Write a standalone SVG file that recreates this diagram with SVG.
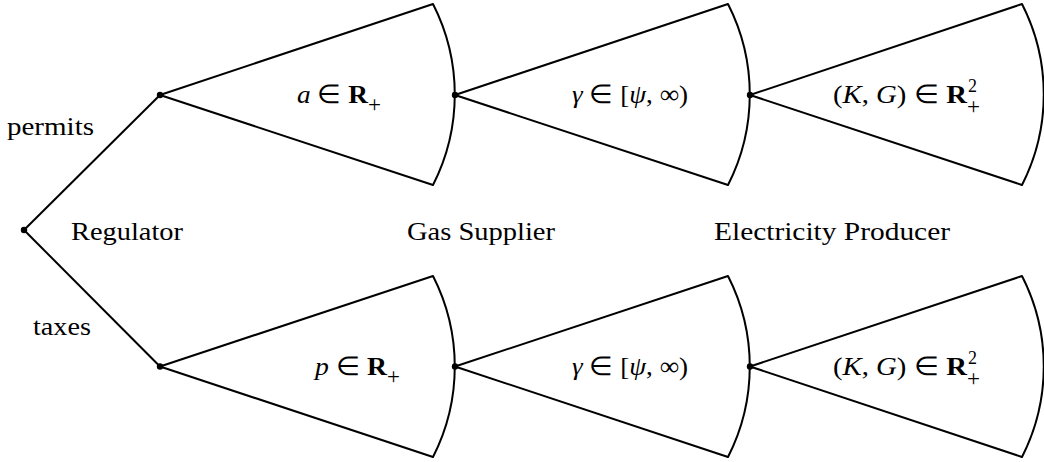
<svg xmlns="http://www.w3.org/2000/svg" width="1044" height="462" viewBox="0 0 1044 462">
<style>
.e{fill:none;stroke:#000;stroke-width:2;stroke-linejoin:miter}
.fan{fill:none;stroke:#000;stroke-width:2;stroke-linejoin:round}
.d{fill:#000}
text{font-family:"Liberation Serif","Times New Roman",serif;font-size:25px;fill:#000}
.m{font-size:26px}
.i{font-style:italic}
.b{font-weight:bold}
.s{font-size:18px}
.p{font-size:23px}
</style>
<rect width="1044" height="462" fill="#fff"/>
<g id="connectors">
<path class="e" d="M24,230 L160,95"/>
<path class="e" d="M24,230 L160,366.5"/>
</g>
<g id="fan-regulator-permits"><path class="fan" d="M160,95 L433,4 A199,199 0 0 1 433,185 Z"/></g>
<g id="fan-gas-permits"><path class="fan" d="M455,95 L728,4 A199,199 0 0 1 728,185 Z"/></g>
<g id="fan-elec-permits"><path class="fan" d="M750,95 L1022,4 A199,199 0 0 1 1022,185 Z"/></g>
<g id="fan-regulator-taxes"><path class="fan" d="M160,366.5 L433,276 A199,199 0 0 1 433,457 Z"/></g>
<g id="fan-gas-taxes"><path class="fan" d="M455,366.5 L728,276 A199,199 0 0 1 728,457 Z"/></g>
<g id="fan-elec-taxes"><path class="fan" d="M750,366.5 L1022,276 A199,199 0 0 1 1022,457 Z"/></g>
<g id="nodes">
<g id="root"><circle class="d" cx="24" cy="230" r="3.2"/></g>
<g id="reg-permits"><circle class="d" cx="160" cy="95" r="3.2"/></g>
<g id="gas-permits"><circle class="d" cx="455" cy="95" r="3.2"/></g>
<g id="elec-permits"><circle class="d" cx="750" cy="95" r="3.2"/></g>
<g id="reg-taxes"><circle class="d" cx="160" cy="366.5" r="3.2"/></g>
<g id="gas-taxes"><circle class="d" cx="455" cy="366.5" r="3.2"/></g>
<g id="elec-taxes"><circle class="d" cx="750" cy="366.5" r="3.2"/></g>
</g>
<g id="labels">
<text x="7" y="135" textLength="87" lengthAdjust="spacingAndGlyphs">permits</text>
<text x="33" y="335" textLength="58" lengthAdjust="spacingAndGlyphs">taxes</text>
<text x="71" y="240" textLength="112" lengthAdjust="spacingAndGlyphs">Regulator</text>
<text x="407" y="240" textLength="148" lengthAdjust="spacingAndGlyphs">Gas Supplier</text>
<text x="714" y="240" textLength="236" lengthAdjust="spacingAndGlyphs">Electricity Producer</text>

<text class="m" x="297" y="103" textLength="71" lengthAdjust="spacingAndGlyphs"><tspan class="i">a</tspan> ∈ <tspan class="b">R</tspan></text>
<text class="p" x="368" y="112">+</text>
<text class="m" x="315" y="375" textLength="72" lengthAdjust="spacingAndGlyphs"><tspan class="i">p</tspan> ∈ <tspan class="b">R</tspan></text>
<text class="p" x="387" y="384">+</text>

<text class="m" x="572" y="103" textLength="116" lengthAdjust="spacingAndGlyphs"><tspan class="i">γ</tspan> ∈ [<tspan class="i">ψ</tspan>, ∞)</text>
<text class="m" x="572" y="375" textLength="116" lengthAdjust="spacingAndGlyphs"><tspan class="i">γ</tspan> ∈ [<tspan class="i">ψ</tspan>, ∞)</text>

<text class="m" x="833" y="103" textLength="134" lengthAdjust="spacingAndGlyphs">(<tspan class="i">K</tspan>, <tspan class="i">G</tspan>) ∈ <tspan class="b">R</tspan></text>
<text class="s" x="968" y="92">2</text>
<text class="p" x="967" y="114">+</text>
<text class="m" x="833" y="375" textLength="134" lengthAdjust="spacingAndGlyphs">(<tspan class="i">K</tspan>, <tspan class="i">G</tspan>) ∈ <tspan class="b">R</tspan></text>
<text class="s" x="968" y="364">2</text>
<text class="p" x="967" y="386">+</text>
</g>
</svg>
